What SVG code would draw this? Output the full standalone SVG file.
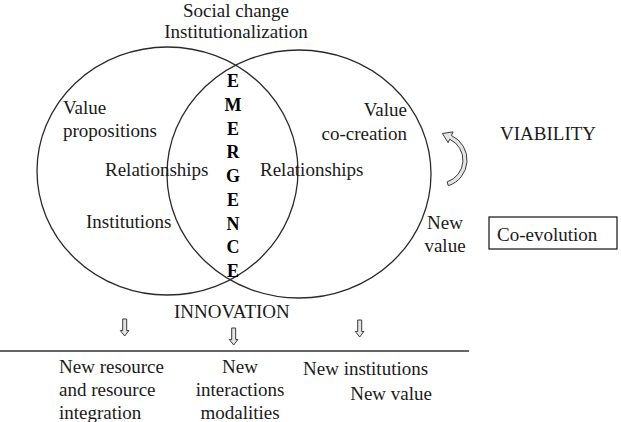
<svg xmlns="http://www.w3.org/2000/svg" width="621" height="422" viewBox="0 0 621 422">
<style>
text{font-family:"Liberation Serif","Times New Roman",serif;font-size:19px;fill:#1a1a1a}
.b{font-weight:bold;font-size:18px;text-anchor:middle;fill:#000}
.m{text-anchor:middle}
.e{text-anchor:end}
.c{fill:none;stroke:#2a2a2a;stroke-width:1.3}
.ar{fill:#e4e4e4;stroke:#3a3a3a;stroke-width:1}
</style>
<rect width="621" height="422" fill="#fff"/>
<g id="left-circle"><ellipse class="c" cx="167.5" cy="171" rx="130.5" ry="124"/></g>
<g id="right-circle"><ellipse class="c" cx="299" cy="174" rx="132" ry="124"/></g>
<g id="top-label"><text class="m" x="236" y="17">Social change</text><text class="m" x="236" y="38">Institutionalization</text></g>
<g id="value-propositions"><text x="63" y="114">Value</text><text x="63" y="137">propositions</text></g>
<g id="value-cocreation"><text class="e" x="407" y="116">Value</text><text class="e" x="407" y="140">co-creation</text></g>
<g id="relationships-left"><text x="105" y="176">Relationships</text></g>
<g id="relationships-right"><text x="260" y="176">Relationships</text></g>
<g id="institutions"><text x="86" y="228">Institutions</text></g>
<g id="emergence">
<text class="b" x="233" y="87">E</text>
<text class="b" x="233" y="110.75">M</text>
<text class="b" x="233" y="134.5">E</text>
<text class="b" x="233" y="158.25">R</text>
<text class="b" x="233" y="182">G</text>
<text class="b" x="233" y="205.75">E</text>
<text class="b" x="233" y="229.5">N</text>
<text class="b" x="233" y="253.25">C</text>
<text class="b" x="233" y="277">E</text>
</g>
<g id="viability"><text x="500" y="140">VIABILITY</text></g>
<g id="new-value"><text class="m" x="445" y="229">New</text><text class="m" x="445" y="252">value</text></g>
<g id="co-evolution"><rect x="489" y="217" width="128" height="32" fill="#fff" stroke="#111" stroke-width="1.2"/><text x="497" y="241">Co-evolution</text></g>
<g id="innovation"><text x="174" y="318">INNOVATION</text></g>
<g id="out-resource"><text x="59" y="373">New resource</text><text x="59" y="396">and resource</text><text x="59" y="419">integration</text></g>
<g id="out-interactions"><text class="m" x="240" y="373">New</text><text class="m" x="240" y="396">interactions</text><text class="m" x="240" y="419">modalities</text></g>
<g id="out-institutions"><text x="303" y="375">New institutions</text><text class="e" x="432" y="400">New value</text></g>
<g id="connectors">
<path class="ar" d="M448.3,185.7 A27,27 0 0 0 451.4,135.5 L453.1,131.9 L442.4,133.5 L448.1,142.7 L449.7,139.2 A23,23 0 0 1 447.1,181.9 Z"/>
<path class="ar" d="M122.7,319 h4 v11.5 h2.2 l-4.2,5.5 l-4.4,-5.5 h2.4 Z"/>
<path class="ar" d="M231.7,328 h4 v11.5 h2.2 l-4.2,5.5 l-4.4,-5.5 h2.4 Z"/>
<path class="ar" d="M357.7,320 h4 v11.5 h2.2 l-4.2,5.5 l-4.4,-5.5 h2.4 Z"/>
<line x1="0" y1="351" x2="469" y2="351" stroke="#333" stroke-width="1.3"/>
</g>
</svg>
